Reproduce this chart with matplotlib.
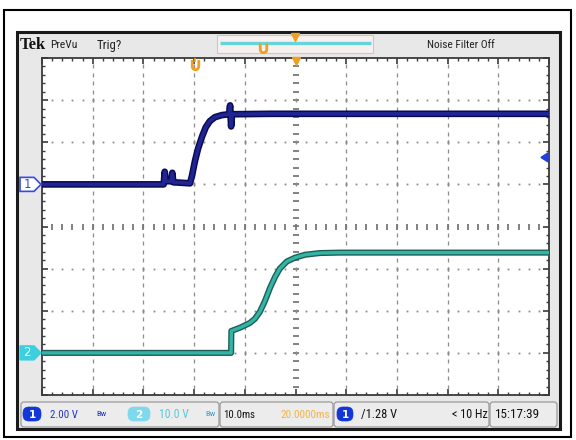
import matplotlib
matplotlib.use("Agg")
import matplotlib.pyplot as plt
from matplotlib import font_manager as fm
from matplotlib.patches import Rectangle, FancyBboxPatch, Polygon
import numpy as np

# ---------------- data ----------------
# channel 1 (2.00 V/div), time in ms from left edge of screen (10 ms/div)
ch1_time_ms = [0, 24.0, 24.2, 24.4, 25.5, 25.7, 25.9, 29.2, 29.6, 30.2, 30.8, 31.6,
               32.3, 33.1, 34.1, 35.5, 36.9, 37.1, 37.3, 37.5, 45.0, 100.0]
ch1_volts = [0.0, 0.0, 0.6, 0.15, 0.15, 0.55, 0.1, 0.05, 0.43, 1.14, 1.71, 2.29,
             2.71, 3.00, 3.19, 3.29, 3.33, 3.75, 2.75, 3.33, 3.35, 3.35]
# channel 2 (10.0 V/div)
ch2_time_ms = [0, 37.3, 37.35, 39.1, 41.0, 42.0, 43.0, 44.0, 45.0, 46.0, 46.9,
               48.3, 49.9, 51.9, 54.8, 58.8, 100.0]
ch2_volts = [0.0, 0.0, 5.2, 6.0, 7.1, 8.1, 9.8, 12.4, 15.5, 18.1, 20.0,
             21.7, 22.6, 23.3, 23.7, 23.8, 23.8]

ch1_volts_per_div = 2.0
ch2_volts_per_div = 10.0
ch1_ground_div = 1.0
ch2_ground_div = -3.0
time_per_div_ms = 10.0
n_xdiv, n_ydiv = 10, 8
trigger_level_v = 1.28

header_brand = "Tek"
header_labels = ["PreVu", "Trig?", "Noise Filter Off"]
status_ch1 = ["1", "2.00 V", "Bw"]
status_ch2 = ["2", "10.0 V", "Bw"]
status_time = ["10.0ms", "20.0000ms"]
status_trig = ["1", "/1.28 V", "< 10 Hz"]
status_clock = "15:17:39"

# ---------------- font choice (narrow if available) ----------------
names = {f.name for f in fm.fontManager.ttflist}
cond = {f.name for f in fm.fontManager.ttflist if 'ondensed' in f.stretch or 'arrow' in f.fname}
NARROW = ['DejaVu Sans']
STRETCH = 'normal'
for cand in ['Liberation Sans Narrow', 'Roboto Condensed', 'Open Sans Condensed']:
    if cand in names:
        NARROW = [cand, 'DejaVu Sans']
        break
else:
    if 'DejaVu Sans' in cond:
        STRETCH = 'condensed'

# ---------------- figure ----------------
W, H = 576, 440
fig = plt.figure(figsize=(5.76, 4.40), dpi=100)

bg = fig.add_axes([0, 0, 1, 1], zorder=0)
bg.set_xlim(0, W); bg.set_ylim(H, 0); bg.axis('off')

fitted = []  # (text, target width px)

def label(axh, x, y, s, w, size=9, **kw):
    kw.setdefault('family', NARROW)
    if kw['family'] is NARROW:
        kw.setdefault('stretch', STRETCH)
    t = axh.text(x, y, s, size=size, va='center', **kw)
    fitted.append((t, w))
    return t

# outer frame and scope bezel
bg.add_patch(Rectangle((4, 10), 567, 427, fill=False, ec='black', lw=1.5))
bg.add_patch(Rectangle((17, 32), 543, 397, fc='#e8e8e8', ec='#1a1a1a', lw=2.2))

# header
label(bg, 20, 45, header_brand, 26, size=13, family=['Liberation Serif', 'DejaVu Serif'],
      weight='bold', color='#111111')
label(bg, 50, 45, header_labels[0], 27, color='#222222')
label(bg, 97, 45, header_labels[1], 25, color='#222222')
label(bg, 427, 45, header_labels[2], 68, color='#222222')

# record view bar
bg.add_patch(Rectangle((217, 35), 156, 18, fc='#f6f0ef', ec='#c8c8c8', lw=0.8))
bg.plot([220, 371], [43, 43], color='#66d4dc', lw=2.4, solid_capstyle='butt')
bg.plot([295], [37.5], marker='v', ms=6, color='#f0a020', mec='#f0a020')
bg.plot([263], [48], marker=r'$\cup$', ms=7, color='#f0a020')

# ---------------- graticule axes ----------------
gx0, gx1, gy0, gy1 = 42, 549, 58, 395
ax = fig.add_axes([gx0 / W, 1 - gy1 / H, (gx1 - gx0) / W, (gy1 - gy0) / H], zorder=1)
xmax = n_xdiv * time_per_div_ms
ax.set_xlim(0, xmax)
ax.set_ylim(-n_ydiv / 2, n_ydiv / 2)
ax.set_facecolor('white')
for s in ax.spines.values():
    s.set_color('#3a3a3a'); s.set_linewidth(1.3)
ax.set_xticks(np.arange(0, xmax + 0.1, time_per_div_ms))
ax.set_xticks(np.arange(0, xmax + 0.1, time_per_div_ms / 5), minor=True)
ax.set_yticks(np.arange(-4, 4.01, 1))
ax.set_yticks(np.arange(-4, 4.01, 0.2), minor=True)
ax.tick_params(which='both', direction='in', top=True, right=True, bottom=True, left=True,
               labelbottom=False, labelleft=False, color='#3a3a3a')
ax.tick_params(which='major', length=4, width=1.2)
ax.tick_params(which='minor', length=2.5, width=1.0)

minor_x = np.arange(time_per_div_ms / 5, xmax, time_per_div_ms / 5)
minor_y = np.arange(-4 + 0.2, 4 - 0.1, 0.2)
dot_col = '#8c8c8c'
for k in range(1, n_xdiv):
    xv = k * time_per_div_ms
    if k == n_xdiv // 2:
        ax.plot(np.full(minor_y.size, xv), minor_y, ls='none', marker='_', ms=4,
                mew=1.3, color='#777777', zorder=2)
    else:
        ax.plot(np.full(minor_y.size, xv), minor_y, ls='none', marker='|', ms=2.2,
                mew=0.9, color=dot_col, zorder=2)
for k in range(-n_ydiv // 2 + 1, n_ydiv // 2):
    if k == 0:
        ax.plot(minor_x, np.zeros(minor_x.size), ls='none', marker='|', ms=4,
                mew=1.3, color='#777777', zorder=2)
    else:
        ax.plot(minor_x, np.full(minor_x.size, k), ls='none', marker='s', ms=1.3,
                mew=0, color=dot_col, zorder=2)
        ax.plot(np.arange(time_per_div_ms, xmax, time_per_div_ms),
                np.full(n_xdiv - 1, k), ls='none', marker='|', ms=3.5, mew=1.0,
                color=dot_col, zorder=2)

# traces
y1 = ch1_ground_div + np.asarray(ch1_volts) / ch1_volts_per_div
y2 = ch2_ground_div + np.asarray(ch2_volts) / ch2_volts_per_div
ax.plot(ch1_time_ms, y1, color='#0b0b55', lw=4.8, solid_joinstyle='round', zorder=5)
ax.plot(ch1_time_ms, y1, color='#1f2592', lw=2.6, solid_joinstyle='round', zorder=6)
ax.plot(ch2_time_ms, y2, color='#1c5e57', lw=4.4, solid_joinstyle='round', zorder=5)
ax.plot(ch2_time_ms, y2, color='#34b4a4', lw=2.4, solid_joinstyle='round', zorder=6)

# markers inside graticule (trigger position / expansion point)
ax.plot([xmax / 2], [4 - 0.08], marker='v', ms=6, color='#f0a020', zorder=7, clip_on=False)
ax.plot([30.2], [3.83], marker=r'$\cup$', ms=7, color='#f0a020', zorder=7)
ax.plot([30.2, 30.2], [3.92, 4.0], color='#f0a020', lw=1.2, zorder=7)

# ---------------- foreground overlay ----------------
fg = fig.add_axes([0, 0, 1, 1], zorder=3)
fg.set_xlim(0, W); fg.set_ylim(H, 0); fg.axis('off')
fg.patch.set_alpha(0)

def div_to_px(d):
    return gy0 + (n_ydiv / 2 - d) / n_ydiv * (gy1 - gy0)

yc1 = div_to_px(ch1_ground_div)
fg.add_patch(Polygon([(20, yc1 - 7), (34, yc1 - 7), (41, yc1), (34, yc1 + 7), (20, yc1 + 7)],
                     closed=True, fc='white', ec='#3a48e0', lw=1.2))
fg.text(27, yc1, "1", color='#3a48e0', size=8.5, ha='center', va='center')
yc2 = div_to_px(ch2_ground_div)
fg.add_patch(Polygon([(20, yc2 - 7), (34, yc2 - 7), (41, yc2), (34, yc2 + 7), (20, yc2 + 7)],
                     closed=True, fc='#3ccfe0', ec='#3ccfe0', lw=1.0))
fg.text(27, yc2, "2", color='white', size=8.5, ha='center', va='center')

yt = div_to_px(ch1_ground_div + trigger_level_v / ch1_volts_per_div)
fg.add_patch(Polygon([(541, yt), (548, yt - 4.5), (548, yt + 4.5)], closed=True,
                     fc='#2040e0', ec='#2040e0'))

# ---------------- status bar ----------------
sy0, sy1 = 402, 427
for x0, x1 in [(21, 219), (220, 333), (334, 489), (490, 557)]:
    bg.add_patch(FancyBboxPatch((x0, sy0), x1 - x0, sy1 - sy0,
                                boxstyle='round,pad=0,rounding_size=3',
                                fc='#ececec', ec='#9a9a9a', lw=0.9))
ty = 414.5

def pill(x0, x1, col, s):
    bg.add_patch(FancyBboxPatch((x0, 407), x1 - x0, 14,
                                boxstyle='round,pad=0,rounding_size=6',
                                fc=col, ec=col, lw=0.5))
    bg.text((x0 + x1) / 2, ty, s, color='white', size=7.5, ha='center', va='center',
            weight='bold')

pill(23, 41, '#1236d8', status_ch1[0])
label(bg, 50, ty, status_ch1[1], 28, color='#2238c0')
label(bg, 96, ty, status_ch1[2], 10, size=7, color='#2238c0')
pill(128, 150, '#7fd8ec', status_ch2[0])
label(bg, 159, ty, status_ch2[1], 30, color='#58c8dc')
label(bg, 205, ty, status_ch2[2], 10, size=7, color='#3f9fd0')
label(bg, 223, ty, status_time[0], 32, color='#111111')
label(bg, 280, ty, status_time[1], 50, color='#f2b445')
pill(337, 353, '#1236d8', status_trig[0])
label(bg, 361, ty, status_trig[1], 36, color='#111111')
label(bg, 452, ty, status_trig[2], 36, color='#111111')
label(bg, 495, ty, status_clock, 45, color='#111111')

# fit text widths to the reference
fig.canvas.draw()
r = fig.canvas.get_renderer()
for t, w in fitted:
    cur = t.get_window_extent(r).width
    if cur > 0:
        t.set_fontsize(t.get_fontsize() * w / cur)

fig.savefig("out.png", dpi=100)
